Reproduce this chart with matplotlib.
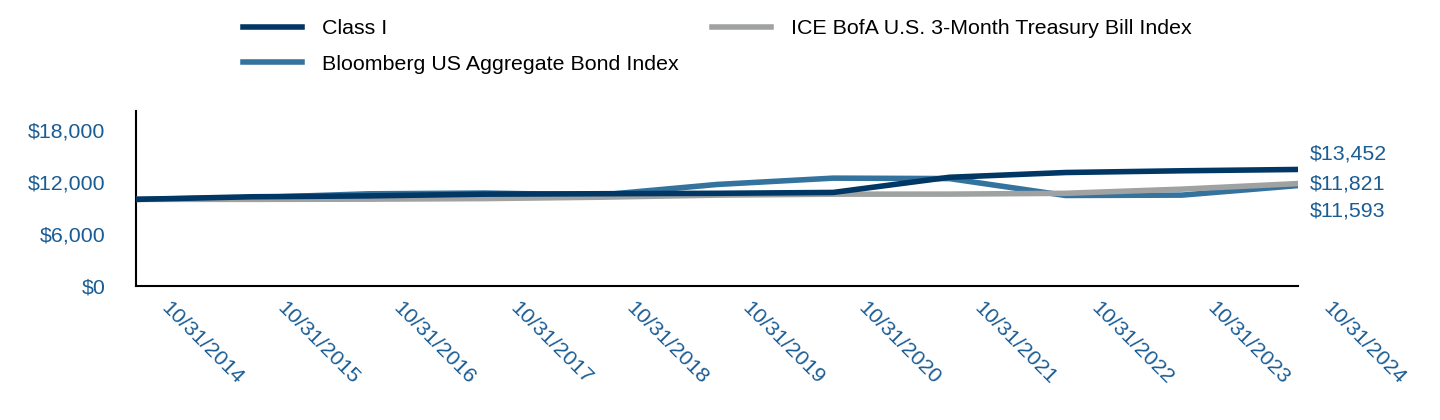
import matplotlib
matplotlib.use("Agg")
import matplotlib.pyplot as plt
import matplotlib.transforms as mtransforms

plt.rcParams['font.family'] = ['Liberation Sans', 'DejaVu Sans']

dates = ['10/31/2014', '10/31/2015', '10/31/2016', '10/31/2017', '10/31/2018',
         '10/31/2019', '10/31/2020', '10/31/2021', '10/31/2022', '10/31/2023',
         '10/31/2024']
class_i = [10000, 10300, 10400, 10600, 10650, 10700, 10800, 12550, 13100, 13300, 13452]
bloomberg = [10000, 10200, 10640, 10730, 10510, 11720, 12450, 12400, 10450, 10490, 11593]
tbill = [10000, 10002, 10025, 10090, 10250, 10490, 10600, 10605, 10700, 11180, 11821]

end_labels = ['$13,452', '$11,821', '$11,593']

navy = '#003764'
blue = '#35739f'
gray = '#a0a2a2'
txt = '#1a5c94'
fs = 15.4

fig = plt.figure(figsize=(14.4, 4.2), dpi=100)
ax = fig.add_axes([136/1440, 1-286/420, (1298-136)/1440, (286-111)/420])

x = list(range(len(dates)))
l1, = ax.plot(x, class_i, color=navy, lw=4, zorder=4, label='Class I')
l2, = ax.plot(x, bloomberg, color=blue, lw=4, zorder=2, label='Bloomberg US Aggregate Bond Index')
l3, = ax.plot(x, tbill, color=gray, lw=4, zorder=3, label='ICE BofA U.S. 3-Month Treasury Bill Index')

ax.set_xlim(0, len(dates) - 1)
ax.set_ylim(0, 20200)
ax.set_yticks([0, 6000, 12000, 18000])
ax.set_yticklabels(['$0', '$6,000', '$12,000', '$18,000'])
ax.set_xticks(x)
ax.set_xticklabels(dates)
ax.tick_params(length=0, labelsize=fs, labelcolor=txt)
ax.tick_params(axis='y', pad=22)
ax.tick_params(axis='x', pad=9)
offset = mtransforms.ScaledTranslation(0.35, 0, fig.dpi_scale_trans)
for lab in ax.get_xticklabels():
    lab.set_rotation(-45)
    lab.set_ha('left')
    lab.set_va('top')
    lab.set_rotation_mode('anchor')
    lab.set_transform(lab.get_transform() + offset)

for s in ['top', 'right']:
    ax.spines[s].set_visible(False)
for s in ['left', 'bottom']:
    ax.spines[s].set_linewidth(1.5)
    ax.spines[s].set_color('black')

# end values on the right
ends = [class_i[-1], tbill[-1], bloomberg[-1]]
shifts = [15, 0, -25]
for lab, v, dy in zip(end_labels, ends, shifts):
    ax.annotate(lab, (x[-1], v), xytext=(12, dy), textcoords='offset pixels',
                ha='left', va='center', fontsize=fs, color=txt, annotation_clip=False)

fig.legend(handles=[l1, l2, l3], loc='upper left', ncol=2,
           bbox_to_anchor=(243/1440, 1 - 19/420), frameon=False, fontsize=fs,
           handlelength=2.75, handletextpad=0.95, columnspacing=1.55,
           labelspacing=0.78, borderpad=0, borderaxespad=0)

fig.savefig('out.png', dpi=100)
